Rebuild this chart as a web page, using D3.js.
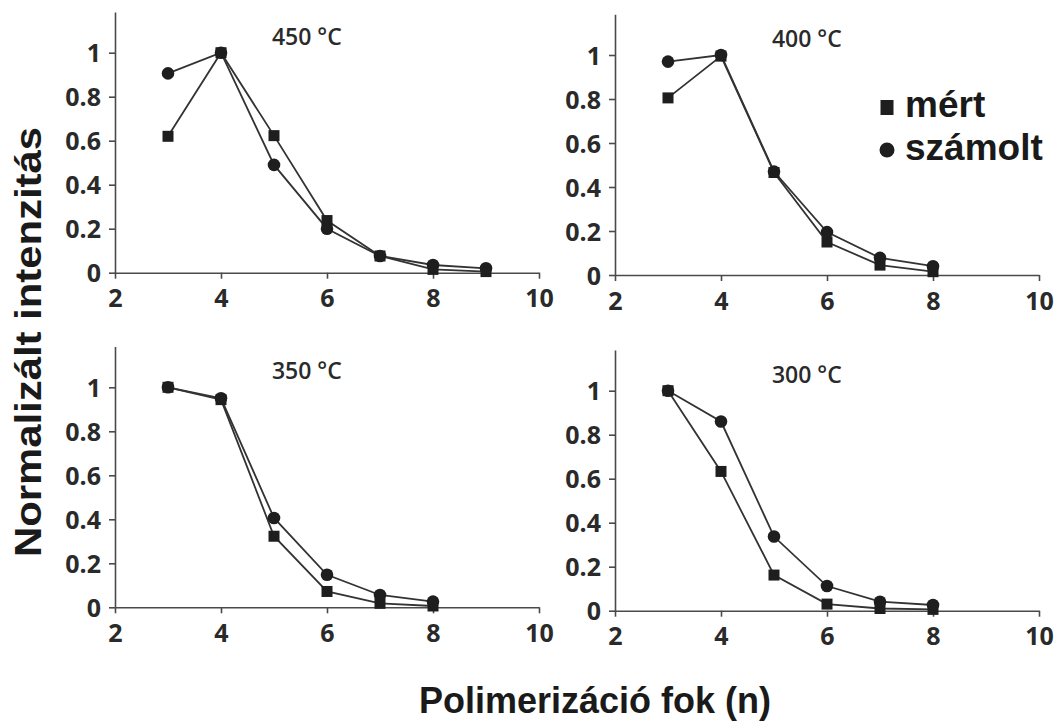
<!DOCTYPE html>
<html>
<head>
<meta charset="utf-8">
<script src="https://cdn.jsdelivr.net/npm/d3@7"></script>
<style>
  html, body { margin: 0; padding: 0; background: #fff; }
  svg { display: block; }
</style>
</head>
<body>
<svg id="chart" width="1061" height="722"></svg>
<script>
// ---------- data ----------
const nValues = [3, 4, 5, 6, 7, 8, 9];
const panelTitles = ["450 °C", "400 °C", "350 °C", "300 °C"];
const seriesNames = ["mért", "számolt"];
const xTickValues = [2, 4, 6, 8, 10];
const xTickLabels = ["2", "4", "6", "8", "10"];
const yTickValues = [0, 0.2, 0.4, 0.6, 0.8, 1];
const yTickLabels = ["0", "0.2", "0.4", "0.6", "0.8", "1"];

// measured (squares)
const mert450 = [0.62, 1.0, 0.623, 0.237, 0.076, 0.015, 0.005];
const mert400 = [0.805, 0.995, 0.466, 0.15, 0.045, 0.015];
const mert350 = [1.0, 0.944, 0.323, 0.072, 0.018, 0.006];
const mert300 = [1.0, 0.633, 0.162, 0.03, 0.01, 0.006];
// calculated (circles)
const szamolt450 = [0.906, 1.0, 0.49, 0.20, 0.076, 0.035, 0.02];
const szamolt400 = [0.97, 1.0, 0.47, 0.195, 0.078, 0.04];
const szamolt350 = [1.0, 0.95, 0.406, 0.148, 0.056, 0.026];
const szamolt300 = [1.0, 0.86, 0.337, 0.112, 0.041, 0.026];

const mertAll = [mert450, mert400, mert350, mert300];
const szamoltAll = [szamolt450, szamolt400, szamolt350, szamolt300];

// ---------- layout ----------
const svg = d3.select("#chart");
const W = 424, unitH = 220, yMax = 1.185;
const H = unitH * yMax;
const origins = [
  { x: 115, y0: 272.7 },
  { x: 615, y0: 275 },
  { x: 115, y0: 607.3 },
  { x: 615, y0: 610.7 }
];
const axisColor = "#4a4a4a";
const lineColor = "#333";
const markColor = "#1e1e1e";
const tickFont = "'Open Sans', sans-serif";

origins.forEach((o, i) => {
  const g = svg.append("g").attr("transform", `translate(${o.x},${o.y0 - H})`);
  const x = d3.scaleLinear().domain([2, 10]).range([0, W]);
  const y = d3.scaleLinear().domain([0, yMax]).range([H, 0]);

  const xAxis = d3.axisBottom(x).tickValues(xTickValues)
    .tickFormat((d, k) => xTickLabels[k]).tickSize(6).tickSizeOuter(0).tickPadding(11);
  const yAxis = d3.axisLeft(y).tickValues(yTickValues)
    .tickFormat((d, k) => yTickLabels[k]).tickSize(6).tickSizeOuter(0).tickPadding(8);

  const gx = g.append("g").attr("transform", `translate(0,${H})`).call(xAxis);
  const gy = g.append("g").call(yAxis);
  [gx, gy].forEach(a => {
    a.select(".domain").attr("stroke", axisColor).attr("stroke-width", 1.6);
    a.selectAll(".tick line").attr("stroke", axisColor).attr("stroke-width", 1.6);
    a.selectAll(".tick text")
      .attr("fill", "#2a2a2a")
      .style("font-family", tickFont)
      .style("font-weight", 700)
      .style("font-size", "25px");
  });
  gy.selectAll(".tick text").attr("dy", "0.36em");

  g.append("text")
    .attr("x", x(5.62))
    .attr("y", y(1) - 8)
    .attr("text-anchor", "middle")
    .attr("fill", "#2a2a2a")
    .style("font-family", tickFont)
    .style("font-weight", 600)
    .style("font-size", "23px")
    .text(panelTitles[i]);

  const mert = mertAll[i], sz = szamoltAll[i];
  const line = d3.line().x((d, k) => x(nValues[k])).y(d => y(d));

  g.append("path").datum(mert).attr("d", line)
    .attr("fill", "none").attr("stroke", lineColor).attr("stroke-width", 1.8);
  g.append("path").datum(sz).attr("d", line)
    .attr("fill", "none").attr("stroke", lineColor).attr("stroke-width", 1.8);

  const s = 11;
  g.selectAll(".sq").data(mert).enter().append("rect")
    .attr("x", (d, k) => x(nValues[k]) - s / 2)
    .attr("y", d => y(d) - s / 2)
    .attr("width", s).attr("height", s)
    .attr("fill", markColor);
  g.selectAll(".ci").data(sz).enter().append("circle")
    .attr("cx", (d, k) => x(nValues[k]))
    .attr("cy", d => y(d))
    .attr("r", 6.3)
    .attr("fill", markColor);
});

// ---------- legend ----------
const lg = svg.append("g");
lg.append("rect").attr("x", 880.5).attr("y", 100).attr("width", 13).attr("height", 15).attr("fill", markColor);
lg.append("circle").attr("cx", 887).attr("cy", 150).attr("r", 7.5).attr("fill", markColor);
lg.selectAll("text").data(seriesNames).enter().append("text")
  .attr("x", 905)
  .attr("y", (d, k) => 117 + k * 43)
  .attr("fill", "#1a1a1a")
  .style("font-family", "'Liberation Sans', Arial, sans-serif")
  .style("font-weight", 700)
  .style("font-size", "37px")
  .text(d => d);

// ---------- axis titles ----------
svg.append("text")
  .attr("transform", "translate(41,342) rotate(-90)")
  .attr("text-anchor", "middle")
  .attr("fill", "#1a1a1a")
  .style("font-family", "'Liberation Sans', Arial, sans-serif")
  .style("font-weight", 700)
  .style("font-size", "37px")
  .attr("textLength", 430)
  .attr("lengthAdjust", "spacingAndGlyphs")
  .text("Normalizált intenzitás");

svg.append("text")
  .attr("x", 595)
  .attr("y", 713)
  .attr("text-anchor", "middle")
  .attr("fill", "#1a1a1a")
  .style("font-family", "'Liberation Sans', Arial, sans-serif")
  .style("font-weight", 700)
  .style("font-size", "36px")
  .text("Polimerizáció fok (n)");
</script>
</body>
</html>
